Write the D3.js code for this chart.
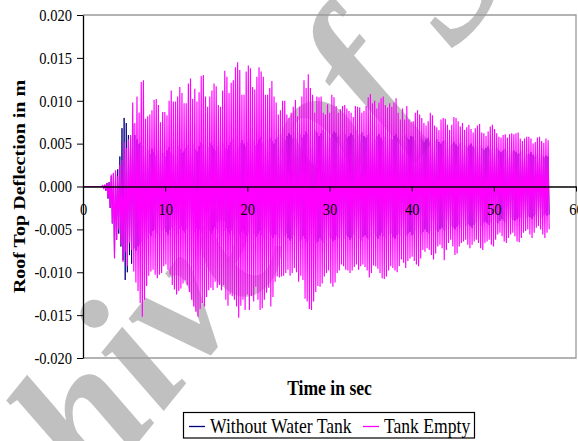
<!DOCTYPE html>
<html>
<head>
<meta charset="utf-8">
<script src="https://cdn.jsdelivr.net/npm/d3@7"></script>
<style>
  body { margin: 0; background: #fff; }
  svg text { font-family: "Liberation Serif", "Times New Roman", serif; }
</style>
</head>
<body>
<script>
// axis ticks
var xTicks = [0, 10, 20, 30, 40, 50, 60];
var yTicks = [-0.020, -0.015, -0.010, -0.005, 0, 0.005, 0.010, 0.015, 0.020];

// roof at rest until quietEnd, then one swing (peak up, peak down) every peakStep seconds
var quietEnd = 2.3;
var peakStart = 2.4, peakStep = 0.2606;
var unit = 1e-4; // peak arrays are in 1e-4 m

// Tank Empty: upper and lower peak of each swing
var emptyHi = [1, 2, 4, 5, 14, 16, 19, 12, 25, 31,
  52, 45, 55, 60, 98, 74, 105, 86, 122, 124,
  79, 82, 84, 89, 101, 102, 95, 75, 87, 87,
  83, 100, 112, 99, 99, 105, 116, 109, 97, 97,
  120, 126, 102, 114, 99, 110, 129, 130, 105, 93,
  105, 112, 120, 117, 95, 93, 112, 135, 128, 109,
  121, 124, 139, 145, 136, 107, 107, 134, 141, 138,
  116, 113, 128, 139, 134, 128, 107, 107, 115, 123,
  105, 98, 84, 89, 100, 100, 84, 80, 86, 93,
  101, 82, 93, 105, 124, 115, 131, 115, 107, 86,
  105, 104, 105, 86, 84, 96, 86, 107, 104, 94,
  86, 90, 94, 95, 91, 88, 86, 81, 94, 93,
  92, 86, 88, 94, 104, 108, 97, 100, 91, 98,
  103, 105, 95, 92, 97, 93, 98, 103, 86, 78,
  91, 78, 94, 78, 75, 76, 86, 89, 84, 80,
  74, 71, 76, 86, 83, 71, 69, 66, 78, 80,
  79, 72, 66, 72, 81, 80, 76, 70, 74, 66,
  69, 72, 67, 63, 68, 71, 73, 63, 62, 59,
  64, 70, 72, 67, 62, 58, 57, 60, 61, 57,
  61, 62, 61, 62, 63, 56, 53, 56, 58, 58,
  56, 50, 52, 57, 58, 53, 51, 56, 54];
var emptyLo = [-2, -5, -14, -25, -43, -84, -62, -50, -68, -88,
  -76, -93, -66, -74, -99, -112, -122, -136, -152, -132,
  -116, -104, -99, -97, -103, -107, -103, -101, -93, -91,
  -97, -103, -115, -120, -126, -122, -119, -113, -109, -115,
  -123, -132, -140, -146, -152, -143, -136, -140, -129, -121,
  -118, -121, -111, -118, -115, -121, -115, -132, -139, -126,
  -128, -132, -140, -153, -139, -132, -144, -126, -144, -128,
  -134, -117, -132, -144, -142, -132, -124, -118, -140, -129,
  -111, -105, -106, -105, -104, -101, -97, -104, -101, -95,
  -100, -111, -104, -109, -131, -134, -143, -144, -134, -123,
  -116, -117, -113, -105, -101, -98, -113, -117, -112, -101,
  -98, -91, -93, -97, -98, -101, -98, -94, -91, -97,
  -93, -91, -94, -98, -106, -101, -92, -93, -96, -101,
  -107, -108, -105, -98, -93, -95, -98, -100, -93, -85,
  -89, -95, -87, -84, -82, -87, -91, -93, -84, -74,
  -76, -72, -74, -80, -85, -78, -70, -68, -72, -86,
  -74, -66, -62, -70, -80, -78, -70, -66, -64, -62,
  -68, -72, -68, -64, -62, -66, -72, -74, -66, -64,
  -62, -68, -70, -62, -56, -54, -58, -64, -66, -60,
  -56, -54, -58, -64, -65, -60, -54, -52, -50, -56,
  -60, -54, -48, -46, -50, -56, -60, -54, -50];

// Without Water Tank: upper and lower peak of each swing
var bareHi = [1, 2, 4, 5, 12, 15, 14, 20, 35, 68,
  80, 74, 60, 58, 73, 60, 55, 50, 52, 48,
  45, 42, 38, 44, 40, 36, 41, 45, 39, 35,
  42, 46, 40, 37, 43, 47, 44, 39, 41, 45,
  48, 46, 50, 44, 41, 47, 52, 49, 43, 46,
  51, 48, 44, 42, 47, 53, 50, 45, 43, 48,
  52, 55, 49, 46, 51, 54, 50, 47, 52, 56,
  53, 48, 50, 55, 58, 52, 49, 54, 57, 53,
  50, 55, 58, 60, 57, 54, 59, 62, 60, 56,
  58, 63, 61, 57, 60, 64, 62, 58, 61, 65,
  63, 59, 62, 66, 64, 60, 57, 61, 64, 62,
  58, 60, 63, 61, 57, 59, 62, 60, 56, 58,
  61, 63, 59, 57, 60, 62, 58, 55, 59, 61,
  57, 54, 58, 60, 56, 55, 59, 61, 57, 55,
  58, 60, 57, 55, 59, 58, 54, 56, 58, 55,
  52, 55, 57, 54, 51, 53, 55, 52, 50, 53,
  54, 51, 48, 50, 52, 49, 47, 50, 51, 48,
  46, 48, 50, 47, 45, 47, 48, 45, 43, 45,
  47, 44, 42, 44, 45, 42, 40, 42, 44, 41,
  39, 41, 42, 40, 38, 39, 41, 39, 37, 38,
  40, 37, 35, 37, 38, 36, 34, 36, 35];
var bareLo = [-2, -5, -14, -25, -43, -82, -62, -55, -70, -86,
  -109, -100, -80, -90, -72, -75, -70, -68, -65, -62,
  -60, -55, -58, -52, -50, -55, -57, -52, -49, -53,
  -56, -51, -48, -52, -55, -50, -47, -51, -54, -50,
  -48, -50, -53, -49, -46, -51, -54, -50, -47, -52,
  -55, -51, -48, -50, -54, -57, -52, -49, -53, -56,
  -52, -49, -54, -57, -53, -50, -55, -58, -54, -51,
  -56, -59, -55, -52, -57, -60, -56, -53, -57, -60,
  -56, -57, -60, -62, -58, -55, -60, -63, -61, -57,
  -59, -64, -62, -58, -61, -65, -63, -59, -62, -66,
  -64, -60, -63, -66, -62, -59, -61, -64, -62, -58,
  -60, -63, -61, -57, -59, -62, -60, -56, -58, -61,
  -63, -59, -57, -60, -62, -58, -55, -59, -61, -57,
  -54, -58, -60, -56, -55, -59, -61, -57, -55, -58,
  -56, -58, -55, -53, -57, -56, -52, -54, -56, -53,
  -50, -53, -55, -52, -49, -51, -53, -50, -48, -51,
  -52, -49, -46, -48, -50, -47, -45, -48, -49, -46,
  -44, -46, -48, -45, -43, -45, -46, -43, -41, -43,
  -45, -42, -40, -42, -43, -40, -38, -40, -42, -39,
  -37, -39, -40, -38, -36, -37, -39, -37, -35, -36,
  -38, -35, -33, -35, -36, -34, -32, -34, -33];

var seriesNames = ["Without Water Tank", "Tank Empty"];
var seriesColors = ["#000080", "#ff00ff"];
var seriesWidths = [0.9, 1.15];

(function(){
    var width = 578, height = 441;
    var left = 83, right = 576, top = 15, bottom = 358;
    var squeeze = 0.88; // the picture is a little narrower than tall

    var svg = d3.select("body").append("svg")
        .attr("width", width)
        .attr("height", height);

    //watermark behind everything
    svg.append("text")
        .attr("transform", "translate(-80,712) rotate(-51)")
        .style("font-size", "186px")
        .style("font-weight", "bold")
        .style("font-style", "italic")
        .style("fill", "#c0c0c0")
        .text("Archive of SID");

    var x = d3.scaleLinear().domain([0, 60]).range([left, right]);
    var y = d3.scaleLinear().domain([-0.02, 0.02]).range([bottom, top]);

    //plot area frame
    svg.append("path")
        .attr("d", "M" + left + "," + top + "H" + right + "V" + bottom + "H" + left)
        .attr("fill", "none")
        .attr("stroke", "#9a9a9a")
        .attr("stroke-width", 1.3);

    //build the swing path of one series
    function swings(hi, lo){
        var pts = [[0, 0], [quietEnd, 0]];
        for (var i = 0; i < hi.length; i++){
            pts.push([peakStart + i * peakStep, hi[i] * unit]);
            pts.push([peakStart + (i + 0.5) * peakStep, lo[i] * unit]);
        }
        return pts;
    }

    var line = d3.line()
        .x(function(d){ return x(d[0]); })
        .y(function(d){ return y(d[1]); });

    var series = [swings(bareHi, bareLo), swings(emptyHi, emptyLo)];

    svg.selectAll(".series")
        .data(series)
        .enter()
        .append("path")
        .attr("class", "series")
        .attr("d", line)
        .attr("fill", "none")
        .attr("stroke", function(d, i){ return seriesColors[i]; })
        .attr("stroke-width", function(d, i){ return seriesWidths[i]; });

    //y axis
    var yAxis = svg.append("g")
        .attr("transform", "translate(" + left + ",0)")
        .call(d3.axisLeft(y)
            .tickValues(yTicks)
            .tickSize(6)
            .tickSizeOuter(0)
            .tickFormat(function(d){ return d.toFixed(3); }));
    yAxis.select(".domain").attr("stroke", "#000").attr("stroke-width", 1.3);
    yAxis.selectAll(".tick line").attr("stroke", "#000");
    yAxis.selectAll(".tick text")
        .attr("x", -11 / squeeze)
        .attr("transform", "scale(" + squeeze + ",1)")
        .style("font-size", "16.5px")
        .style("fill", "#000");

    //x axis sits on the zero line
    var xAxis = svg.append("g")
        .attr("transform", "translate(0," + y(0) + ")")
        .call(d3.axisBottom(x)
            .tickValues(xTicks)
            .tickSize(5)
            .tickSizeOuter(0));
    xAxis.select(".domain").attr("stroke", "#000").attr("stroke-width", 1.3);
    xAxis.selectAll(".tick line").attr("stroke", "#000");
    xAxis.selectAll(".tick text")
        .attr("y", 28.5)
        .attr("dy", null)
        .attr("transform", "scale(" + squeeze + ",1)")
        .style("font-size", "16.5px")
        .style("fill", "#000");

    //axis titles
    svg.append("text")
        .attr("transform", "translate(25," + (top + bottom) / 2 + ") rotate(-90) scale(1," + squeeze + ")")
        .attr("text-anchor", "middle")
        .style("font-size", "20px")
        .style("font-weight", "bold")
        .text("Roof Top Deflection in m");

    svg.append("text")
        .attr("transform", "translate(" + (left + right) / 2 + ",395) scale(" + squeeze + ",1)")
        .attr("text-anchor", "middle")
        .style("font-size", "20px")
        .style("font-weight", "bold")
        .text("Time in sec");

    //legend
    var legend = svg.append("g");
    legend.append("rect")
        .attr("x", 183.5).attr("y", 412.5)
        .attr("width", 291).attr("height", 25.5)
        .attr("fill", "#fff")
        .attr("stroke", "#000")
        .attr("stroke-width", 1.2);
    var legendX = [189, 363];
    seriesNames.forEach(function(name, i){
        legend.append("line")
            .attr("x1", legendX[i]).attr("x2", legendX[i] + 16)
            .attr("y1", 426.5).attr("y2", 426.5)
            .attr("stroke", seriesColors[i])
            .attr("stroke-width", 1.3);
        legend.append("text")
            .attr("transform", "translate(" + (legendX[i] + 21) + ",433) scale(" + squeeze + ",1)")
            .style("font-size", "20px")
            .text(name);
    });
})();
</script>
</body>
</html>
